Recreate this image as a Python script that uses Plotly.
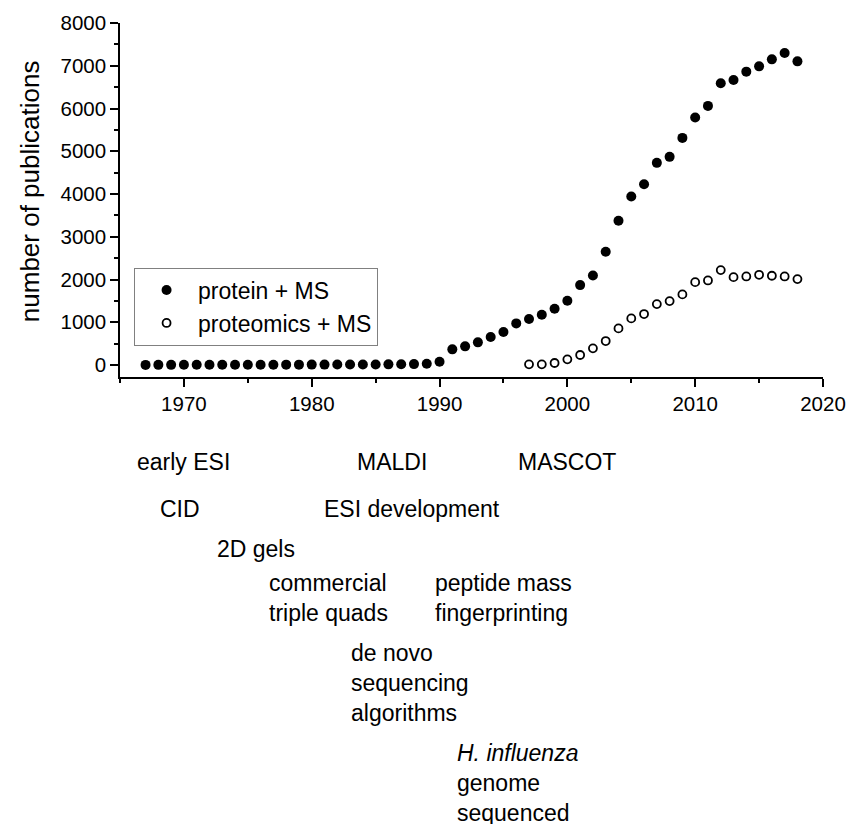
import plotly.graph_objects as go

# ---- data ----
protein_years = list(range(1967, 2019))
protein_ms = [3, 4, 4, 5, 5, 6, 6, 7, 7, 8, 8, 9, 9, 10, 10, 11, 12, 13, 14, 16, 18, 22, 30, 75,
              367, 437, 530, 655, 771, 974, 1075, 1178, 1318, 1505,
              1869, 2096, 2650, 3374, 3942, 4230, 4729, 4869, 5313, 5788,
              6061, 6590, 6668, 6862, 6986, 7150, 7298, 7103]
proteomics_years = list(range(1997, 2019))
proteomics_ms = [16, 16, 47, 133, 234, 390, 561, 857, 1091, 1192, 1425, 1495, 1652,
                 1939, 1979, 2220, 2056, 2072, 2111, 2088, 2072, 2010]

x_ticks = [1970, 1980, 1990, 2000, 2010, 2020]
y_ticks = [0, 1000, 2000, 3000, 4000, 5000, 6000, 7000, 8000]

event_labels = ["early ESI", "MALDI", "MASCOT", "CID", "ESI development", "2D gels",
                "commercial<br>triple quads", "peptide mass<br>fingerprinting",
                "de novo<br>sequencing<br>algorithms",
                "<i>H. influenza</i><br>genome<br>sequenced"]

# label placement (x in years, y in paper units below the axis)
event_x = [1966.2, 1983.4, 1996.0, 1967.95, 1980.8, 1972.4, 1976.5, 1989.5, 1982.95, 1991.2]
event_y = [-0.240, -0.240, -0.240, -0.373, -0.373, -0.486, -0.624, -0.624, -0.864, -1.147]

FONT = "Liberation Sans, Arial, sans-serif"

fig = go.Figure()
fig.add_trace(go.Scatter(
    x=protein_years, y=protein_ms, mode="markers", name="protein + MS",
    marker=dict(symbol="circle", size=10, color="black", line=dict(width=0)),
))
fig.add_trace(go.Scatter(
    x=proteomics_years, y=proteomics_ms, mode="markers", name="proteomics + MS",
    marker=dict(symbol="circle-open", size=8, color="black", line=dict(width=1.8)),
))

for lab, xv, yv in zip(event_labels, event_x, event_y):
    fig.add_annotation(text=lab, x=xv, xref="x", y=yv, yref="paper",
                       xanchor="left", yanchor="middle", align="left",
                       showarrow=False, font=dict(family=FONT, size=23, color="black"))

fig.add_annotation(text="number of publications", x=-0.128, xref="paper", y=0.525, yref="paper",
                   textangle=-90, showarrow=False, xanchor="center", yanchor="middle",
                   font=dict(family=FONT, size=26, color="black"))

axis_common = dict(
    showline=True, linecolor="black", linewidth=1.5, mirror=False,
    ticks="outside", ticklen=8, tickwidth=1.5, tickcolor="black",
    showgrid=False, zeroline=False, automargin=False,
    tickfont=dict(family=FONT, size=20.5, color="black"),
)

fig.update_layout(
    width=849, height=824, autosize=False,
    margin=dict(l=120, r=26, t=23, b=447, autoexpand=False),
    paper_bgcolor="white", plot_bgcolor="white",
    showlegend=True,
    legend=dict(x=0.02, y=0.309, xanchor="left", yanchor="top",
                bordercolor="#808080", borderwidth=1, bgcolor="white",
                font=dict(family=FONT, size=23, color="black"),
                itemwidth=53, tracegroupgap=0),
    xaxis=dict(range=[1965, 2020], tickvals=x_ticks,
               minor=dict(dtick=5, tick0=1965, ticks="outside", ticklen=4, tickwidth=1.5, tickcolor="black"),
               **axis_common),
    yaxis=dict(range=[-280, 8000], tickvals=y_ticks,
               minor=dict(dtick=500, tick0=0, ticks="outside", ticklen=4, tickwidth=1.5, tickcolor="black"),
               **axis_common),
)

# remove the default page margin so the 849x824 figure fills the window exactly
fig.write_html("out.html",
               config={"displayModeBar": False},
               post_script="document.body.style.margin='0';document.body.style.overflow='hidden';")
